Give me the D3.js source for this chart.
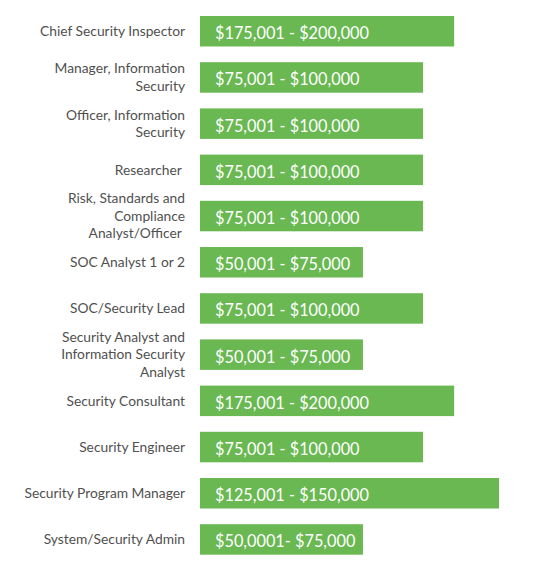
<!DOCTYPE html>
<html lang="en">
  <head>
    <meta charset="UTF-8" />
    <title>security-salaries</title>
    <style>
      body {
        margin: 0;
        background: #fff;
        font-family: Lato, "Open Sans", sans-serif;
      }
      svg {
        display: block;
      }
      .bar {
        fill: #69b852;
      }
      .role-label {
        text-anchor: end;
        font-size: 13.8px;
        fill: #505050;
        white-space: pre;
      }
      .range-label {
        font-size: 16.3px;
        fill: #fff;
      }
    </style>
  </head>
  <body>
    <script src="https://cdn.jsdelivr.net/npm/d3@7"></script>
    <script>
      // job titles, "\n" marks a line break in the label
      const roles = [
        "Chief Security Inspector",
        "Manager, Information\nSecurity",
        "Officer, Information\nSecurity",
        "Researcher ",
        "Risk, Standards and\nCompliance\nAnalyst/Officer ",
        "SOC Analyst 1 or 2",
        "SOC/Security Lead",
        "Security Analyst and\nInformation Security\nAnalyst",
        "Security Consultant",
        "Security Engineer",
        "Security Program Manager",
        "System/Security Admin"
      ];

      // salary range written on each bar
      const ranges = [
        "$175,001 - $200,000",
        "$75,001 - $100,000",
        "$75,001 - $100,000",
        "$75,001 - $100,000",
        "$75,001 - $100,000",
        "$50,001 - $75,000",
        "$75,001 - $100,000",
        "$50,001 - $75,000",
        "$175,001 - $200,000",
        "$75,001 - $100,000",
        "$125,001 - $150,000",
        "$50,0001- $75,000"
      ];

      // bar length, relative to the longest bar (= 100)
      const barLength = [85, 74.6, 74.6, 74.6, 74.6, 54.5, 74.6, 54.5, 85, 74.6, 100, 54.5];

      const width = 547;
      const height = 569;
      const barLeft = 200;
      const barMaxWidth = 299;
      const labelRight = 185;
      const lineHeight = 17.5;

      const svg = d3
        .select("body")
        .append("svg")
        .attr("width", width)
        .attr("height", height);

      const x = d3
        .scaleLinear()
        .domain([0, 100])
        .range([barLeft, barLeft + barMaxWidth]);

      const y = d3
        .scaleBand()
        .domain(roles)
        .range([16, 554.7])
        .paddingInner(0.34)
        .paddingOuter(0);

      const rows = svg
        .selectAll(".row")
        .data(roles)
        .enter()
        .append("g")
        .attr("class", "row")
        .attr("transform", d => `translate(0,${y(d)})`);

      rows
        .append("rect")
        .attr("class", "bar")
        .attr("x", x(0))
        .attr("y", 0)
        .attr("height", y.bandwidth())
        .attr("width", (d, i) => x(barLength[i]) - x(0));

      rows
        .append("text")
        .attr("class", "range-label")
        .attr("x", x(0) + 15)
        .attr("y", y.bandwidth() / 2 + 8)
        .text((d, i) => ranges[i]);

      const labels = rows
        .append("text")
        .attr("class", "role-label")
        .attr("y", y.bandwidth() / 2 + 4.7);

      labels.each(function (d) {
        const lines = d.split("\n");
        const first = -((lines.length - 1) / 2) * lineHeight;
        d3.select(this)
          .selectAll("tspan")
          .data(lines)
          .enter()
          .append("tspan")
          .attr("x", labelRight)
          .attr("dy", (l, j) => (j === 0 ? first : lineHeight))
          .text(l => l);
      });
    </script>
  </body>
</html>
